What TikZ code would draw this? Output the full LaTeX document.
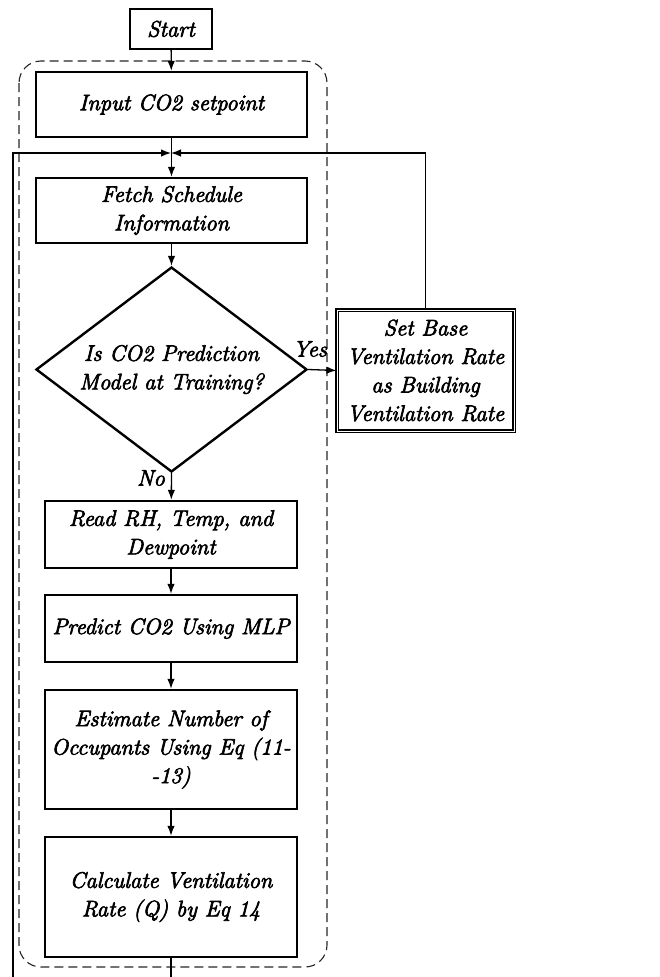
\documentclass[tikz,border=0pt]{standalone}
\usepackage{fontspec}
\newfontfamily\figfont[FakeBold=3]{Latin Modern Roman}
\usetikzlibrary{arrows.meta,shapes.geometric}
\begin{document}
\begin{tikzpicture}[x=1pt,y=-1pt,
  every node/.style={font=\figfont\fontsize{22.5}{28.5}\selectfont\itshape},
  box/.style={draw,line width=2.4pt,rectangle,inner sep=0pt,align=center},
  conn/.style={line width=1.3pt},
  arr/.style={conn,-{Latex[length=10pt,width=7.5pt]}},
  lbl/.style={inner sep=0pt}]
\useasboundingbox (0,0) rectangle (660,977);
% dashed group
\draw[dashed,line width=1.1pt,dash pattern=on 9pt off 5pt,rounded corners=22pt,gray!30!black] (19,61) rectangle (327,967);
% nodes
\node[box,minimum width=82pt,minimum height=40pt] (start) at (171,29) {Start};
\node[box,minimum width=271pt,minimum height=65pt] (input) at (171.5,104.5) {Input CO2 setpoint};
\node[box,minimum width=271pt,minimum height=65pt] (fetch) at (171.5,210.5) {Fetch Schedule\\Information};
\node[draw,line width=2.4pt,diamond,minimum width=271pt,minimum height=205pt,inner sep=0pt] (dia) at (171.5,369.5) {};
\node[lbl,align=center] (diatext) at (171.5,369.5) {Is CO2 Prediction\\Model at Training?};
\node[box,double,line width=1.2pt,double distance=0.8pt,minimum width=177pt,minimum height=121pt] (set) at (425.5,370.5) {Set Base\\Ventilation Rate\\as Building\\Ventilation Rate};
\node[box,minimum width=252pt,minimum height=67pt] (read) at (171,534.5) {Read RH, Temp, and\\Dewpoint};
\node[box,minimum width=252pt,minimum height=67pt] (pred) at (171,628.5) {Predict CO2 Using MLP};
\node[box,minimum width=252pt,minimum height=119pt] (est) at (171,749.5) {Estimate Number of\\Occupants Using Eq (11-\\-13)};
\node[box,minimum width=252pt,minimum height=120pt] (calc) at (171,897) {Calculate Ventilation\\Rate (Q) by Eq 14};
\node[lbl] (yes) at (310,349) {Yes};
\node[lbl] (no) at (151,478) {No};
% coordinates
\coordinate (m) at (171,153);
\coordinate (lb) at (13,977);
\coordinate (cb) at (171,977);
% connectors
\draw[arr] (start) -- (input);
\draw[arr] (input) -- (fetch);
\draw[arr] (fetch) -- (dia.north);
\draw[arr] (dia.east) -- (set.west);
\draw[arr] (dia.south) -- (read);
\draw[arr] (read) -- (pred);
\draw[arr] (pred) -- (est);
\draw[arr] (est) -- (calc);
\draw[conn] (calc) -- (cb);
\draw[arr] (set.north) |- (m);
\draw[arr] (lb) |- (m);
\end{tikzpicture}
\end{document}
